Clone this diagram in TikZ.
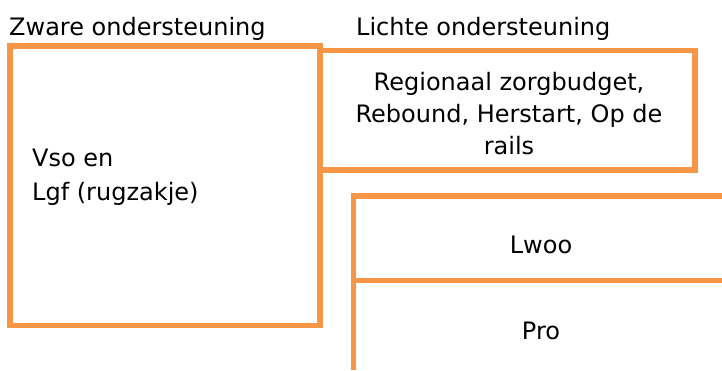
\documentclass[tikz,border=0pt]{standalone}
\usepackage{fontspec}
\setmainfont{DejaVu Sans}
\definecolor{kaderoranje}{HTML}{F79646}
\begin{document}
\begin{tikzpicture}[x=1pt,y=-1pt,
	kader/.style={line width=5.5pt,draw=kaderoranje},
	tekst/.style={inner sep=0pt,font=\fontsize{24}{34}\selectfont}]
	\useasboundingbox (0,0) rectangle (722,370);
	
	\draw[kader](9.8,46)rectangle(320,325.5);
	\draw[kader](320,50.5)rectangle(695,170);
	\draw[kader](722,196)--(353.5,196)--(353.5,370);
	\draw[kader](353.5,280.5)--(722,280.5);
	
	\node[tekst,anchor=base west] (zwaar) at (9,35){Zware ondersteuning};
	\node[tekst,anchor=base west] (licht) at (356,35){Lichte ondersteuning};
	\node[tekst,anchor=north west,align=left] (vso) at (32,148.5){Vso en\\Lgf (rugzakje)};
	\node[tekst,anchor=north,align=center,font=\fontsize{24}{32}\selectfont] (regio) at (509,71.8){Regionaal zorgbudget,\\Rebound, Herstart, Op de\\rails};
	\node[tekst,anchor=base] (lwoo) at (541,253){Lwoo};
	\node[tekst,anchor=base] (pro) at (541,339){Pro};
\end{tikzpicture}
\end{document}
